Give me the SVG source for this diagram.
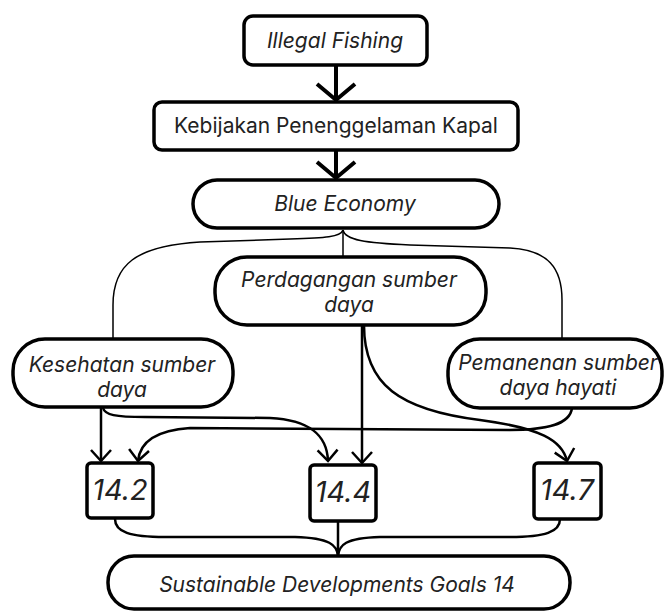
<svg xmlns="http://www.w3.org/2000/svg" width="665" height="612" viewBox="0 0 665 612">
<style>
.box{fill:#fff;stroke:#000;stroke-width:3.5}
.t{font-family:Inter,"Liberation Sans",sans-serif;fill:#222;text-anchor:middle;font-size:21px}
.i{font-style:italic}
.n{font-size:29px}
.c{fill:none;stroke:#000;stroke-width:2.5}
.thin{fill:none;stroke:#000;stroke-width:1.5}
.big{fill:none;stroke:#000;stroke-width:4}
</style>
<defs>
<marker id="a" markerUnits="userSpaceOnUse" viewBox="-14 -14 16 28" markerWidth="16" markerHeight="28" refX="0" refY="0" orient="auto">
<path d="M-11,-10 L0,0 L-11,10" fill="none" stroke="#000" stroke-width="2.5"/>
</marker>
<marker id="b" markerUnits="userSpaceOnUse" viewBox="-20 -22 24 44" markerWidth="24" markerHeight="44" refX="0" refY="0" orient="auto">
<path d="M-16,-19 L0,0 L-16,19" fill="none" stroke="#000" stroke-width="4"/>
</marker>
</defs>
<g id="connectors">
<path class="big" d="M336,65 L336,100" marker-end="url(#b)"/>
<path class="big" d="M336,150 L336,178" marker-end="url(#b)"/>
<path class="thin" d="M343,230 L343,257"/>
<path class="thin" d="M343,230 C341,237 325,238 290,239 L200,242 C135,246 113,265 113,305 L113,339"/>
<path class="thin" d="M343,230 C345,240 365,243 410,245 L510,248 C548,250 562,268 562,300 L562,338"/>
<path class="c" d="M101,408 L101,461" marker-end="url(#a)"/>
<path class="c" d="M103,408 C105,415 115,417 145,417 L270,418 C310,420 327,435 328,461" marker-end="url(#a)"/>
<path class="c" d="M362,325 L362,463" marker-end="url(#a)"/>
<path class="c" d="M364,325 C364,385 400,410 480,420 C540,428 562,440 567,461" marker-end="url(#a)"/>
<path class="c" d="M572,408 C570,425 545,430 510,430 L190,428 C160,430 140,440 138,461" marker-end="url(#a)"/>
<path class="c" d="M115,519 C115,532 130,537 165,537 L295,537 C330,538 337,545 338,556"/>
<path class="c" d="M560,519 C560,532 545,537 510,537 L380,537 C345,538 339,545 338,556"/>
<path class="c" d="M338,521 L338,556"/>
</g>
<g id="illegal-fishing"><rect class="box" x="244" y="16" width="183" height="49" rx="9"/><text class="t i" x="335" y="48">Illegal Fishing</text></g>
<g id="kebijakan"><rect class="box" x="154" y="102" width="364" height="48" rx="8"/><text class="t" x="336" y="133">Kebijakan Penenggelaman Kapal</text></g>
<g id="blue-economy"><rect class="box" x="193" y="180" width="306" height="48" rx="24"/><text class="t i" x="345" y="211">Blue Economy</text></g>
<g id="perdagangan"><rect class="box" x="215" y="257" width="271" height="68" rx="32"/><text class="t i" x="349" y="287">Perdagangan sumber</text><text class="t i" x="349" y="312">daya</text></g>
<g id="kesehatan"><rect class="box" x="13" y="339" width="220" height="68" rx="32"/><text class="t i" x="122" y="372">Kesehatan sumber</text><text class="t i" x="122" y="397">daya</text></g>
<g id="pemanenan"><rect class="box" x="448" y="339" width="214" height="69" rx="32"/><text class="t i" x="558" y="370">Pemanenan sumber</text><text class="t i" x="558" y="395">daya hayati</text></g>
<g id="n142"><rect class="box" x="87" y="463" width="66" height="55" rx="4"/><text class="t i n" x="120" y="500">14.2</text></g>
<g id="n144"><rect class="box" x="310" y="465" width="66" height="56" rx="4"/><text class="t i n" x="343" y="502">14.4</text></g>
<g id="n147"><rect class="box" x="534" y="463" width="67" height="56" rx="4"/><text class="t i n" x="567" y="500">14.7</text></g>
<g id="sdg"><rect class="box" x="108" y="556" width="462" height="53" rx="26"/><text class="t i" x="337" y="592">Sustainable Developments Goals 14</text></g>
</svg>
